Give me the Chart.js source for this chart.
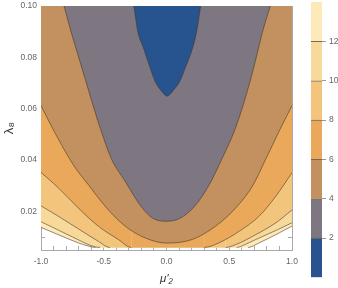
<!DOCTYPE html>
<html>
<head>
<meta charset="utf-8">
<script src="https://cdn.jsdelivr.net/npm/chart.js@4.4.1/dist/chart.umd.min.js"></script>
<style>
  body { margin: 0; background: #fff; }
  #wrap { position: relative; width: 338px; height: 288px; }
  #main { position: absolute; left: 0; top: 0; }
  #bar { position: absolute; left: 300px; top: 0; }
</style>
</head>
<body>
<div id="wrap">
  <canvas id="main" width="300" height="288"></canvas>
  <canvas id="bar" width="38" height="288"></canvas>
</div>
<script>
// ================== Niveles y colores ==================
const LEVELS = [0, 2, 4, 6, 8, 10, 12, 14];
const BAND_COLORS = ["#27548f", "#7e7680", "#c2915f", "#eaa85a", "#f3c47c", "#f8d99c", "#fdeab8"];
const CB_TICKS = [2, 4, 6, 8, 10, 12];

// ================== Ejes ==================
const X_TICKS = [-1.0, -0.9, -0.8, -0.7, -0.6, -0.5, -0.4, -0.3, -0.2, -0.1, 0.0, 0.1, 0.2, 0.3, 0.4, 0.5, 0.6, 0.7, 0.8, 0.9, 1.0];
const X_MAJOR = [-1.0, -0.5, 0.0, 0.5, 1.0];
const X_LABELS = ["-1.0", "-0.5", "0.0", "0.5", "1.0"];
const Y_TICKS = [0.005, 0.01, 0.015, 0.02, 0.025, 0.03, 0.035, 0.04, 0.045, 0.05, 0.055, 0.06, 0.065, 0.07, 0.075, 0.08, 0.085, 0.09, 0.095, 0.1];
const Y_MAJOR = [0.02, 0.04, 0.06, 0.08, 0.10];
const Y_LABELS = ["0.02", "0.04", "0.06", "0.08", "0.10"];
const Y_FLOOR = 0.006; // borde inferior de la región calculada

// ================== Curvas de nivel ==================
const c2_x = [-0.26, -0.228, -0.18, -0.135, -0.09, -0.045, 0.005, 0.055, 0.105, 0.155, 0.205, 0.24, 0.272];
const c2_y = [0.100, 0.090, 0.0832, 0.0766, 0.0706, 0.0672, 0.0649, 0.0672, 0.0706, 0.0766, 0.0832, 0.090, 0.100];

const c4_x = [-0.816, -0.76, -0.69, -0.60, -0.525, -0.437, -0.33, -0.2, -0.11, 0.0, 0.11, 0.22, 0.335, 0.44, 0.546, 0.625, 0.70, 0.765, 0.827];
const c4_y = [0.100, 0.0899, 0.0785, 0.0637, 0.052, 0.0403, 0.0318, 0.0218, 0.0174, 0.0162, 0.0174, 0.0218, 0.0299, 0.0403, 0.052, 0.0637, 0.0770, 0.0899, 0.100];

const c6_x = [-1.0, -0.904, -0.77, -0.718, -0.624, -0.49, -0.33, -0.17, 0.0, 0.205, 0.392, 0.552, 0.685, 0.79, 0.905, 1.0];
const c6_y = [0.0612, 0.052, 0.0403, 0.0364, 0.0305, 0.0221, 0.0143, 0.0097, 0.0077, 0.0091, 0.0143, 0.0214, 0.0299, 0.0403, 0.052, 0.0612];

const c8L_x = [-1.0, -0.864, -0.704, -0.544, -0.384, -0.28];
const c8L_y = [0.0352, 0.0293, 0.0214, 0.0143, 0.0091, 0.006];
const c8R_x = [0.30, 0.419, 0.579, 0.739, 0.872, 1.0];
const c8R_y = [0.006, 0.0078, 0.0123, 0.0182, 0.026, 0.0351];

const c10L_x = [-1.0, -0.864, -0.704, -0.544, -0.45];
const c10L_y = [0.0222, 0.0182, 0.0133, 0.0084, 0.006];
const c10R_x = [0.47, 0.552, 0.712, 0.872, 1.0];
const c10R_y = [0.006, 0.0071, 0.011, 0.0156, 0.0206];

const c12L_x = [-1.0, -0.864, -0.704, -0.60, -0.53];
const c12L_y = [0.0160, 0.0128, 0.0090, 0.0067, 0.006];
const c12R_x = [0.56, 0.62, 0.712, 0.872, 1.0];
const c12R_y = [0.006, 0.0070, 0.0091, 0.0126, 0.0156];

const c14L_x = [-1.0, -0.864, -0.704, -0.62, -0.565];
const c14L_y = [0.0138, 0.0110, 0.0078, 0.0065, 0.006];
const c14R_x = [0.65, 0.739, 0.872, 1.0];
const c14R_y = [0.006, 0.0078, 0.0110, 0.0143];

// ================== Util ==================
const AXIS_GRAY = "#a9a9a9";
const LINE_COLOR = "rgba(65,50,35,0.7)";
Chart.defaults.font.family = "'Liberation Sans', Arial, sans-serif";
Chart.defaults.font.size = 8.5;

function pts(xs, ys) {
  return xs.map((x, i) => ({ x: x, y: ys[i] }));
}
function near(list, v) {
  return list.findIndex(m => Math.abs(m - v) < 1e-6);
}
// fija el tamaño del eje y quita el relleno que Chart.js reserva para las etiquetas
function fixBox(w, h) {
  return s => {
    if (w !== null) s.width = w;
    if (h !== null) s.height = h;
    s.paddingLeft = 0; s.paddingRight = 0; s.paddingTop = 0; s.paddingBottom = 0;
  };
}

const contours = [
  pts(c2_x, c2_y),
  pts(c4_x, c4_y),
  pts(c6_x, c6_y),
  pts(c8L_x, c8L_y).concat(pts(c8R_x, c8R_y)),
  pts(c10L_x, c10L_y).concat(pts(c10R_x, c10R_y)),
  pts(c12L_x, c12L_y).concat(pts(c12R_x, c12R_y)),
  pts(c14L_x, c14L_y).concat(pts(c14R_x, c14R_y))
];

// el índice 0 (azul) se dibuja encima de todo
const datasets = contours.map((d, i) => ({
  data: d,
  fill: "end",
  backgroundColor: BAND_COLORS[i],
  borderColor: LINE_COLOR,
  borderWidth: 0.8,
  pointRadius: 0,
  cubicInterpolationMode: "monotone",
  segment: {
    borderColor: ctx => (ctx.p0.parsed.y <= Y_FLOOR + 1e-9 && ctx.p1.parsed.y <= Y_FLOOR + 1e-9) ? "rgba(0,0,0,0)" : undefined
  }
}));

function frameGrid() {
  return { drawOnChartArea: false, tickLength: -4, color: AXIS_GRAY };
}

// ================== Gráfico principal ==================
new Chart(document.getElementById("main"), {
  type: "line",
  data: { datasets: datasets },
  options: {
    responsive: false,
    animation: false,
    layout: { padding: { left: 0, top: 6, right: 8, bottom: 0 } },
    plugins: { legend: { display: false }, tooltip: { enabled: false } },
    scales: {
      x: {
        type: "linear", position: "bottom", min: -1, max: 1,
        afterBuildTicks: s => { s.ticks = X_TICKS.map(v => ({ value: v })); },
        afterFit: fixBox(null, 38),
        grid: frameGrid(),
        border: { color: AXIS_GRAY },
        ticks: {
          autoSkip: false, maxRotation: 0, padding: 11, color: "#666",
          callback: v => { const k = near(X_MAJOR, v); return k >= 0 ? X_LABELS[k] : ""; }
        },
        title: { display: true, text: "μ′₂", color: "#333", font: { size: 11.5, style: "italic" }, padding: { top: 0, bottom: 2 } }
      },
      x2: {
        type: "linear", position: "top", min: -1, max: 1,
        afterBuildTicks: s => { s.ticks = X_TICKS.map(v => ({ value: v })); },
        afterFit: fixBox(null, 0),
        grid: frameGrid(),
        border: { color: AXIS_GRAY },
        ticks: { display: false }
      },
      y: {
        type: "linear", position: "left", min: 0.005, max: 0.1,
        afterBuildTicks: s => { s.ticks = Y_TICKS.map(v => ({ value: v })); },
        afterFit: fixBox(41, null),
        grid: frameGrid(),
        border: { color: AXIS_GRAY },
        ticks: {
          autoSkip: false, padding: 8, color: "#666",
          callback: v => { const k = near(Y_MAJOR, v); return k >= 0 ? Y_LABELS[k] : ""; }
        },
        title: { display: true, text: "λ₈", color: "#333", font: { size: 13.5 }, padding: { top: 1, bottom: 0 } }
      },
      y2: {
        type: "linear", position: "right", min: 0.005, max: 0.1,
        afterBuildTicks: s => { s.ticks = Y_TICKS.map(v => ({ value: v })); },
        afterFit: fixBox(0, null),
        grid: frameGrid(),
        border: { color: AXIS_GRAY },
        ticks: { display: false }
      }
    }
  }
});

// ================== Barra de colores ==================
new Chart(document.getElementById("bar"), {
  type: "bar",
  data: {
    labels: [""],
    datasets: BAND_COLORS.map((c, i) => ({
      data: [LEVELS[i + 1] - LEVELS[i]],
      backgroundColor: c,
      borderColor: LINE_COLOR,
      borderWidth: i < BAND_COLORS.length - 1 ? { top: 1, bottom: 0, left: 0, right: 0 } : 0,
      borderSkipped: false,
      barPercentage: 1,
      categoryPercentage: 1
    }))
  },
  options: {
    responsive: false,
    animation: false,
    layout: { padding: { left: 11, top: 2, right: 0, bottom: 10.5 } },
    plugins: { legend: { display: false }, tooltip: { enabled: false } },
    scales: {
      x: { display: false, stacked: true },
      y: {
        position: "right", stacked: true, min: 0, max: 14,
        afterBuildTicks: s => { s.ticks = CB_TICKS.map(v => ({ value: v })); },
        afterFit: fixBox(16, null),
        grid: { drawOnChartArea: false, tickLength: 4, color: "#999" },
        border: { display: false },
        ticks: { padding: 3, color: "#666" }
      }
    }
  }
});
</script>
</body>
</html>
